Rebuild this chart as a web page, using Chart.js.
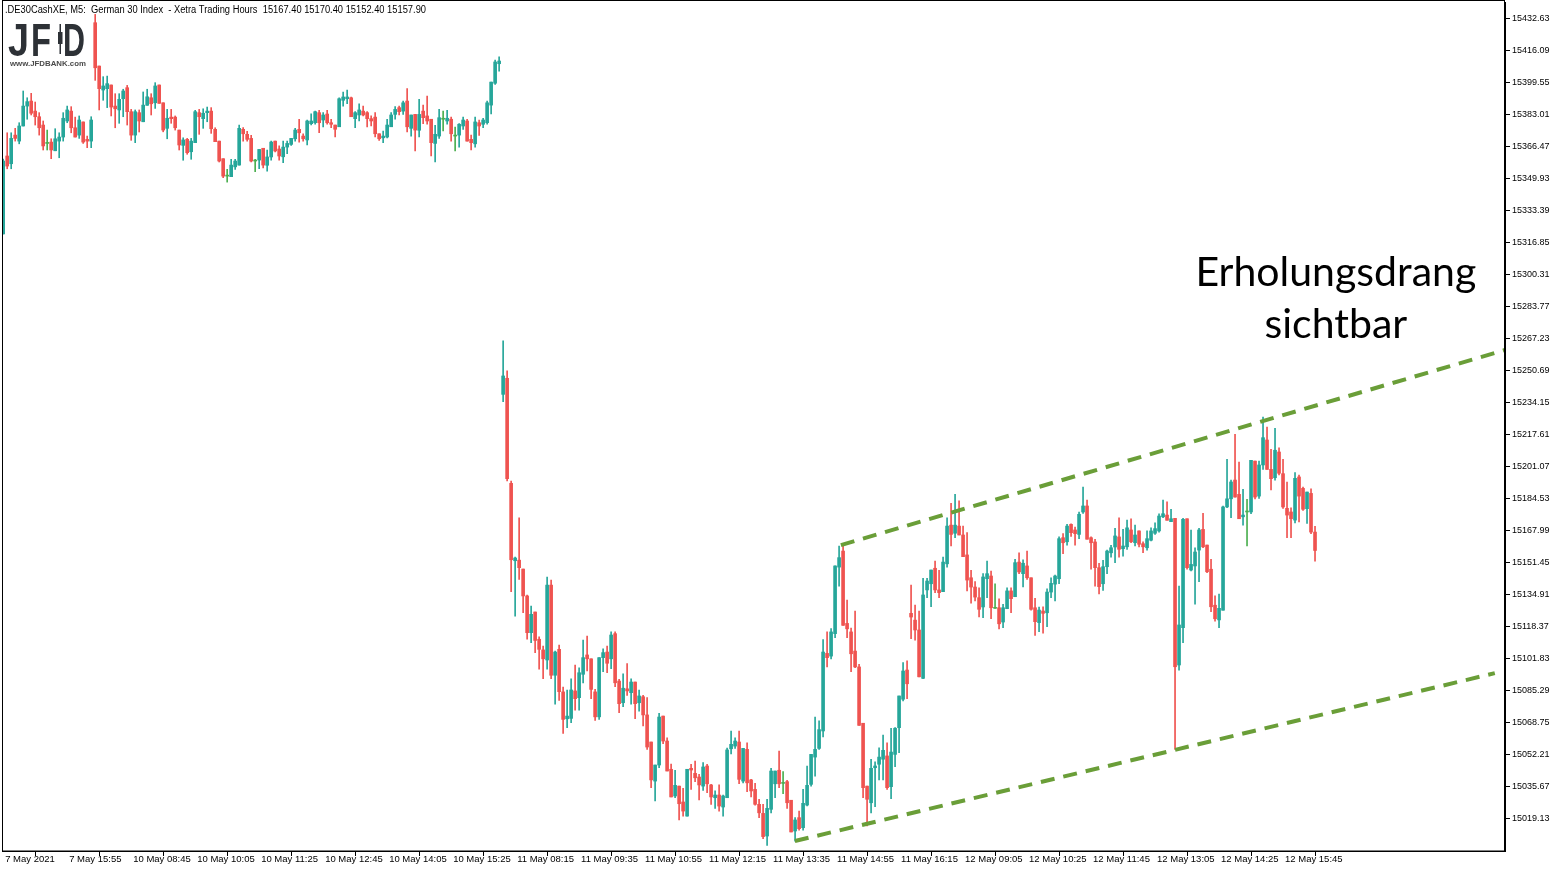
<!DOCTYPE html>
<html><head><meta charset="utf-8">
<script src="https://cdn.jsdelivr.net/npm/chart.js@4.4.1/dist/chart.umd.min.js"></script>
<style>html,body{margin:0;padding:0;background:#fff;}canvas{display:block;}</style>
</head><body>
<canvas id="c" width="1563" height="871"></canvas>
<script>
const chartTitle = '.DE30CashXE, M5:  German 30 Index  - Xetra Trading Hours  15167.40 15170.40 15152.40 15157.90';
const noteLines = ['Erholungsdrang', 'sichtbar'];
const xTickLabels = ['7 May 2021','7 May 15:55','10 May 08:45','10 May 10:05','10 May 11:25','10 May 12:45','10 May 14:05','10 May 15:25','11 May 08:15','11 May 09:35','11 May 10:55','11 May 12:15','11 May 13:35','11 May 14:55','11 May 16:15','12 May 09:05','12 May 10:25','12 May 11:45','12 May 13:05','12 May 14:25','12 May 15:45'];
const yTickValues = [15432.63,15416.09,15399.55,15383.01,15366.47,15349.93,15333.39,15316.85,15300.31,15283.77,15267.23,15250.69,15234.15,15217.61,15201.07,15184.53,15167.99,15151.45,15134.91,15118.37,15101.83,15085.29,15068.75,15052.21,15035.67,15019.13];

const openP = [
15321.5,15361.8,15357.8,15372.6,15369.5,15377.3,15387.6,15390.2,15385.0,15382.1,
15377.8,15368.3,15369.0,15364.5,15369.5,15371.6,15379.9,15385.0,15376.4,15372.6,
15379.4,15370.4,15369.5,15430.7,15408.3,15395.9,15396.6,15398.5,15387.6,15385.6,
15391.4,15397.1,15384.7,15372.6,15384.2,15379.5,15388.0,15391.9,15389.3,15398.5,
15389.3,15376.1,15381.9,15381.9,15375.2,15367.3,15370.4,15364.0,15368.7,15384.2,
15381.1,15384.2,15385.0,15375.6,15369.5,15360.4,15351.4,15351.1,15356.2,15357.1,
15375.6,15373.0,15370.9,15359.2,15359.7,15365.8,15357.0,15361.3,15369.5,15365.4,
15361.4,15366.4,15367.8,15370.7,15375.6,15372.1,15370.1,15378.5,15379.0,15384.2,
15380.4,15383.5,15379.0,15377.8,15376.9,15390.6,15391.4,15391.9,15381.1,15383.0,
15385.0,15384.2,15381.1,15381.9,15373.3,15371.2,15371.6,15376.9,15383.3,15386.8,
15385.0,15390.2,15376.1,15383.3,15375.1,15385.0,15382.5,15380.8,15368.3,15372.1,
15380.8,15379.9,15380.8,15372.1,15372.6,15377.3,15379.9,15370.4,15368.1,15379.0,
15378.2,15379.0,15388.1,15399.4,15409.5,15238.6,15246.9,15192.6,15152.6,15152.9,
15148.3,15134.4,15115.4,15126.1,15112.0,15106.5,15101.3,15140.0,15093.4,15106.8,
15084.8,15070.9,15071.1,15085.3,15081.8,15093.9,15103.9,15101.9,15084.8,15071.9,
15102.5,15105.4,15101.9,15114.9,15090.4,15079.2,15086.4,15084.4,15089.9,15079.2,
15082.3,15072.9,15058.9,15038.7,15047.0,15072.3,15059.4,15044.8,15031.0,15036.1,
15027.9,15020.6,15045.3,15042.7,15040.8,15036.1,15046.5,15036.7,15030.1,15031.5,
15025.3,15030.1,15055.4,15056.8,15058.9,15038.7,15055.1,15039.3,15034.4,15026.7,
15022.0,15010.3,15024.1,15037.3,15044.3,15037.5,15038.4,15028.8,15012.9,15019.8,
15014.6,15026.3,15037.0,15051.1,15055.6,15064.6,15104.7,15103.3,15114.9,15149.3,
15157.6,15120.2,15115.8,15105.9,15097.7,15068.6,15036.1,15027.5,15045.6,15047.4,
15050.0,15051.7,15035.8,15052.5,15066.3,15081.0,15096.1,15125.4,15121.9,15116.8,
15091.8,15137.5,15140.7,15148.7,15137.5,15136.6,15151.0,15171.0,15166.8,15170.5,
15165.9,15155.6,15143.8,15139.0,15133.5,15128.7,15143.3,15144.7,15128.0,15128.3,
15120.9,15127.8,15137.0,15134.0,15151.9,15145.9,15149.9,15143.8,15128.3,15120.6,
15126.6,15125.7,15136.4,15140.5,15143.3,15164.5,15162.4,15171.4,15168.5,15166.2,
15177.8,15180.9,15164.5,15162.3,15149.0,15140.7,15149.5,15156.7,15159.7,15164.9,
15158.8,15159.8,15168.5,15161.9,15168.0,15161.4,15159.3,15163.2,15166.8,15168.0,
15175.3,15176.2,15172.8,15174.5,15098.7,15118.0,15174.3,15147.8,15149.9,15158.1,
15168.8,15160.7,15148.2,15129.6,15122.0,15127.0,15180.4,15184.6,15194.3,15186.9,
15175.3,15177.8,15177.8,15204.1,15186.0,15202.1,15215.0,15199.8,15195.5,15208.8,
15197.6,15179.7,15177.8,15173.6,15195.9,15190.0,15179.5,15187.4,15167.4];

const highP = [
15360.2,15373.8,15373.8,15376.1,15379.0,15395.4,15391.9,15394.2,15389.7,15384.2,
15379.9,15375.2,15370.7,15375.9,15373.8,15384.2,15387.6,15387.3,15381.9,15382.5,
15379.4,15372.1,15382.1,15435.0,15408.3,15402.8,15403.1,15398.5,15394.0,15394.0,
15396.3,15398.3,15385.9,15385.6,15385.6,15394.9,15396.3,15394.0,15399.7,15398.5,
15389.3,15385.9,15385.9,15382.5,15375.2,15371.2,15370.9,15370.9,15385.4,15385.9,
15386.2,15387.1,15386.8,15376.4,15369.5,15360.4,15354.9,15360.1,15360.1,15377.8,
15376.5,15374.5,15372.5,15360.1,15365.2,15365.8,15364.9,15369.5,15369.5,15367.0,
15369.5,15369.5,15370.9,15376.1,15380.8,15373.3,15380.4,15383.6,15385.0,15385.4,
15384.2,15385.4,15380.8,15377.8,15391.9,15394.9,15395.9,15392.3,15384.7,15388.8,
15387.6,15384.7,15382.5,15384.2,15373.3,15374.7,15380.8,15384.2,15387.3,15387.6,
15390.2,15396.6,15383.0,15383.3,15391.1,15388.1,15392.8,15380.8,15377.6,15385.9,
15385.0,15385.4,15381.9,15376.8,15378.5,15381.9,15380.8,15372.6,15381.9,15380.4,
15381.3,15390.2,15400.0,15411.4,15413.1,15266.2,15250.7,15193.8,15154.5,15174.8,
15148.3,15134.9,15129.2,15126.1,15113.2,15108.5,15144.2,15142.6,15105.9,15109.0,
15087.3,15085.8,15091.6,15098.7,15097.3,15111.6,15113.7,15101.9,15086.1,15102.5,
15107.1,15108.5,15115.8,15115.8,15091.3,15094.2,15099.4,15091.6,15089.9,15085.8,
15083.0,15081.8,15058.9,15047.0,15073.7,15072.3,15061.0,15047.5,15044.3,15036.1,
15034.9,15044.8,15047.4,15049.1,15042.2,15048.2,15047.4,15037.0,15033.6,15036.7,
15031.5,15055.8,15064.6,15061.1,15064.6,15055.6,15058.5,15039.6,15037.5,15029.3,
15026.7,15029.3,15045.3,15043.9,15054.2,15043.6,15039.1,15028.8,15019.8,15023.2,
15034.4,15046.5,15052.5,15071.8,15069.9,15111.9,15115.8,15117.5,15149.9,15160.2,
15161.4,15132.3,15117.8,15126.6,15099.1,15068.6,15036.1,15050.0,15048.7,15055.9,
15062.5,15058.5,15066.0,15066.3,15082.7,15099.9,15100.8,15140.0,15129.7,15126.6,
15143.5,15143.5,15147.8,15152.4,15147.6,15154.5,15174.8,15182.3,15186.9,15183.5,
15170.5,15167.1,15147.6,15141.8,15138.6,15145.9,15152.4,15147.3,15140.7,15132.9,
15130.1,15138.6,15138.6,15153.3,15156.7,15153.0,15157.6,15143.8,15133.2,15128.7,
15128.8,15138.1,15143.8,15145.2,15164.9,15166.6,15171.4,15171.7,15170.0,15177.8,
15190.7,15184.0,15164.9,15163.7,15151.3,15152.8,15158.1,15160.5,15169.4,15174.8,
15168.8,15173.6,15174.3,15171.0,15168.0,15162.4,15168.0,15169.6,15172.2,15176.9,
15184.0,15183.1,15179.2,15174.5,15139.5,15174.5,15174.3,15168.5,15159.3,15169.4,
15177.1,15160.7,15153.3,15134.4,15135.3,15180.9,15205.0,15194.3,15217.9,15203.6,
15189.5,15184.3,15204.5,15204.1,15204.1,15226.9,15221.7,15210.2,15221.0,15211.0,
15205.0,15193.3,15180.0,15198.1,15196.9,15190.7,15188.1,15189.8,15170.4];

const lowP = [
15321.5,15355.2,15355.2,15369.5,15368.1,15377.3,15380.8,15383.0,15377.8,15372.6,
15364.9,15364.9,15360.4,15364.5,15360.9,15369.5,15379.0,15373.8,15371.6,15370.9,
15368.3,15366.1,15366.1,15400.9,15385.6,15390.6,15386.8,15382.5,15376.4,15378.7,
15382.1,15377.8,15369.9,15368.7,15374.2,15379.5,15388.0,15383.0,15386.4,15389.0,
15374.3,15370.7,15378.7,15375.2,15364.9,15359.6,15362.7,15360.1,15368.7,15373.0,
15376.1,15379.5,15373.5,15369.2,15358.7,15350.6,15348.3,15351.1,15354.9,15357.1,
15369.5,15369.5,15358.7,15353.7,15355.2,15355.7,15354.0,15359.7,15363.9,15359.6,
15358.3,15363.0,15367.3,15369.5,15369.0,15369.5,15367.5,15377.8,15378.2,15373.8,
15376.8,15378.2,15376.4,15371.6,15376.9,15387.6,15388.8,15382.1,15376.4,15379.9,
15382.5,15376.8,15377.3,15371.6,15369.9,15368.7,15371.2,15376.9,15380.8,15383.0,
15383.3,15374.3,15372.1,15364.4,15371.6,15378.5,15378.2,15361.8,15358.8,15370.9,
15374.7,15378.2,15369.5,15364.4,15366.4,15375.6,15369.5,15364.9,15366.4,15372.5,
15376.4,15378.2,15383.6,15398.8,15405.7,15234.8,15193.8,15136.6,15124.0,15143.0,
15125.7,15112.0,15110.2,15105.1,15096.5,15091.6,15096.5,15091.6,15078.4,15080.4,
15063.4,15066.3,15068.9,15075.3,15075.3,15089.5,15095.6,15081.3,15070.1,15070.6,
15095.2,15094.7,15096.8,15087.5,15074.0,15077.1,15083.0,15078.4,15070.9,15074.9,
15067.2,15055.1,15035.3,15028.4,15045.6,15058.0,15043.9,15030.5,15030.1,15018.6,
15020.6,15020.6,15034.4,15038.4,15028.9,15033.9,15032.7,15026.7,15024.6,15023.2,
15020.6,15030.1,15052.8,15055.6,15037.3,15037.8,15033.2,15030.5,15026.2,15019.8,
15008.9,15005.5,15022.3,15030.1,15035.3,15032.2,15024.6,15012.4,15007.7,15013.3,
15013.3,15025.8,15036.1,15041.3,15055.1,15061.5,15097.7,15101.9,15112.8,15139.5,
15119.2,15112.8,15095.2,15097.3,15067.5,15030.1,15015.5,15022.3,15025.5,15039.3,
15039.3,15034.4,15029.6,15046.1,15053.4,15080.1,15081.3,15112.3,15111.6,15092.6,
15091.6,15133.5,15128.8,15136.1,15133.5,15136.6,15149.3,15160.2,15164.5,15165.9,
15154.7,15137.0,15130.6,15131.8,15123.5,15123.2,15133.5,15122.6,15127.9,15117.4,
15118.0,15127.8,15125.7,15134.0,15145.9,15139.0,15143.0,15127.0,15114.0,15115.9,
15115.1,15118.5,15133.5,15131.8,15140.8,15156.2,15160.7,15165.1,15160.6,15164.0,
15177.1,15163.7,15148.2,15139.5,15135.5,15137.3,15145.9,15154.5,15151.6,15154.5,
15155.0,15158.5,15161.9,15160.2,15159.8,15156.7,15158.1,15162.8,15166.2,15167.4,
15174.8,15173.5,15172.8,15055.1,15096.0,15110.2,15148.2,15147.3,15130.1,15141.8,
15159.3,15146.4,15126.3,15121.4,15118.0,15127.0,15180.0,15174.8,15185.5,15174.3,
15171.0,15160.2,15176.9,15184.6,15184.8,15199.8,15199.8,15189.2,15194.3,15196.9,
15179.7,15164.5,15164.5,15172.2,15172.6,15178.6,15171.9,15166.6,15152.4];

const closeP = [
15359.2,15356.6,15370.9,15370.9,15377.3,15387.6,15389.9,15383.9,15382.1,15376.4,
15367.0,15368.3,15364.9,15370.7,15371.6,15381.3,15385.6,15376.4,15371.6,15380.4,
15369.0,15369.5,15380.4,15407.4,15396.6,15398.0,15399.2,15387.1,15386.2,15391.1,
15395.4,15384.7,15372.6,15384.7,15379.9,15388.1,15392.4,15388.8,15398.0,15389.0,
15375.2,15381.3,15381.1,15376.4,15367.5,15370.1,15363.5,15369.5,15384.7,15382.1,
15383.9,15385.0,15375.9,15369.2,15359.2,15351.4,15351.4,15357.1,15359.2,15376.1,
15373.3,15370.4,15359.2,15359.2,15365.2,15357.1,15361.3,15369.0,15364.4,15361.8,
15366.4,15368.3,15370.9,15375.2,15373.8,15370.7,15379.9,15379.9,15384.7,15379.0,
15383.0,15379.0,15378.2,15375.6,15391.4,15392.3,15392.3,15382.1,15384.2,15385.6,
15383.0,15381.1,15379.9,15373.3,15370.7,15372.1,15377.8,15383.0,15385.9,15384.7,
15389.3,15376.9,15383.0,15375.2,15383.3,15381.6,15379.9,15368.7,15373.0,15381.6,
15380.8,15381.3,15373.3,15372.1,15378.2,15380.4,15369.5,15368.7,15379.4,15377.3,
15380.4,15389.3,15400.0,15410.4,15410.9,15248.1,15195.0,15153.1,15154.0,15149.0,
15134.4,15115.4,15124.9,15111.4,15106.8,15101.9,15140.0,15093.4,15105.4,15084.9,
15070.6,15072.3,15085.8,15081.3,15094.7,15102.5,15101.9,15086.1,15071.9,15102.5,
15105.1,15099.6,15114.2,15089.5,15078.7,15086.7,15085.3,15089.9,15078.7,15082.7,
15072.9,15056.3,15039.3,15047.0,15071.8,15059.4,15043.9,15030.5,15036.5,15027.0,
15023.2,15044.8,15044.4,15040.4,15036.7,15046.0,15037.3,15030.5,15031.5,15025.8,
15031.0,15054.8,15057.7,15059.4,15039.6,15055.6,15037.8,15033.6,15026.7,15022.3,
15010.0,15024.6,15043.9,15043.9,15037.3,15037.5,15027.5,15012.4,15018.6,15014.1,
15027.2,15036.5,15052.5,15055.1,15065.3,15105.4,15102.5,15115.8,15149.9,15154.2,
15119.2,15117.4,15104.5,15097.7,15067.5,15035.3,15029.3,15045.3,15046.5,15051.1,
15054.6,15035.3,15053.7,15066.0,15082.7,15095.6,15089.0,15123.5,15116.8,15092.6,
15134.9,15142.1,15147.8,15137.5,15136.1,15151.9,15170.5,15166.2,15171.0,15165.9,
15154.7,15142.6,15139.0,15133.8,15127.5,15144.2,15145.9,15128.3,15128.0,15120.0,
15128.3,15137.0,15133.0,15151.6,15146.8,15151.3,15143.8,15127.5,15121.1,15127.1,
15125.4,15136.4,15140.9,15144.7,15164.0,15161.9,15170.5,15167.1,15166.6,15176.6,
15180.9,15163.7,15161.9,15149.0,15139.2,15149.5,15157.6,15159.3,15165.4,15158.5,
15160.2,15169.6,15162.4,15165.9,15161.1,15159.8,15164.0,15168.0,15169.2,15175.7,
15176.9,15173.5,15174.3,15097.8,15119.4,15174.0,15149.0,15150.7,15157.1,15168.5,
15159.8,15146.9,15128.8,15122.6,15128.0,15180.4,15184.6,15193.3,15185.5,15174.3,
15176.2,15177.8,15204.5,15185.5,15202.1,15216.2,15199.8,15195.0,15209.7,15197.8,
15180.4,15176.2,15174.3,15195.2,15186.0,15179.2,15188.1,15167.4,15157.9];

const upperTrend = [{x: 209.45, y: 15160.7}, {x: 375.45, y: 15261.5}];
const lowerTrend = [{x: 197.95, y: 15007.7}, {x: 372.95, y: 15094.5}];
const notePos = {x: 333.2, y1: 15294.6, y2: 15267.7};

const UP = '#26a69a', DOWN = '#ef5350', DOJI = '#4caf50', TREND = '#6a9e38';
const candleColor = i => closeP[i] > openP[i] ? UP : (closeP[i] < openP[i] ? DOWN : DOJI);

const wickData = lowP.map((l, i) => ({x: i, y: [l, highP[i]]}));
const bodyData = openP.map((o, i) => ({x: i, y: [o, closeP[i]]}));

const decor = {
  id: 'decor',
  beforeDraw(chart) {
    const ctx = chart.ctx;
    ctx.save(); ctx.fillStyle = '#fff'; ctx.fillRect(0, 0, chart.width, chart.height); ctx.restore();
  },
  afterDraw(chart) {
    const ctx = chart.ctx, a = chart.chartArea;
    const xs = chart.scales.x, ys = chart.scales.y;
    ctx.save();
    ctx.strokeStyle = '#000'; ctx.lineWidth = 1;
    ctx.strokeRect(a.left + 0.5, 0.5, a.right - a.left - 1, a.bottom - 0.5);
    // header text
    ctx.fillStyle = '#000'; ctx.textBaseline = 'alphabetic'; ctx.textAlign = 'left';
    ctx.font = '10px "Liberation Sans"';
    ctx.fillText(chartTitle, 5, 13, 421);
    // logo
    ctx.fillStyle = '#2d3136';
    ctx.font = 'bold 46px "Liberation Sans"';
    ctx.fillText('J', 8, 56, 21);
    ctx.fillText('F', 31, 56, 20);
    ctx.fillText('D', 63, 56, 22);
    ctx.fillRect(59.5, 24, 1.5, 30);
    ctx.fillRect(58, 32, 4.5, 12);
    ctx.fillStyle = '#4a4a4a';
    ctx.font = 'bold 8px "Liberation Sans"';
    ctx.fillText('www.JFDBANK.com', 10, 66, 76);
    // annotation
    ctx.fillStyle = '#000';
    ctx.textAlign = 'center';
    ctx.font = '41px Lato';
    const cx = xs.getPixelForValue(notePos.x);
    ctx.fillText(noteLines[0], cx, ys.getPixelForValue(notePos.y1), 286);
    ctx.fillText(noteLines[1], cx, ys.getPixelForValue(notePos.y2), 143);
    ctx.restore();
  }
};

new Chart(document.getElementById('c'), {
  type: 'bar',
  data: {
    datasets: [
      {label: 'wick', data: wickData, order: 3, grouped: false, barThickness: 1,
       backgroundColor: ctx => candleColor(ctx.dataIndex), borderWidth: 0},
      {label: 'body', data: bodyData, order: 2, grouped: false, barThickness: 3, minBarLength: 1,
       backgroundColor: ctx => candleColor(ctx.dataIndex), borderWidth: 0},
      {type: 'line', label: 'upper', data: upperTrend, order: 1, borderColor: TREND, borderWidth: 4,
       borderDash: [14, 9], pointRadius: 0, fill: false, tension: 0},
      {type: 'line', label: 'lower', data: lowerTrend, order: 1, borderColor: TREND, borderWidth: 4,
       borderDash: [14, 9], pointRadius: 0, fill: false, tension: 0}
    ]
  },
  options: {
    responsive: false, animation: false,
    layout: {padding: {left: 2, top: 2, right: 0, bottom: 0}},
    plugins: {legend: {display: false}, tooltip: {enabled: false}},
    scales: {
      x: {
        type: 'linear', position: 'bottom', min: -0.3, max: 375.5, offset: false,
        grid: {display: true, drawOnChartArea: false, drawTicks: true, tickLength: 5, color: '#000'},
        border: {display: true, color: '#000'},
        ticks: {autoSkip: false, maxRotation: 0, minRotation: 0, align: 'start', padding: -2, labelOffset: 2, color: '#000',
                font: {family: 'Liberation Sans', size: 9.5},
                callback: (v, idx) => xTickLabels[idx]},
        afterBuildTicks: s => { s.ticks = xTickLabels.map((_, k) => ({value: k * 16})); },
        afterFit: s => { s.height = 20; s.paddingLeft = 0; s.paddingRight = 0; }
      },
      y: {
        type: 'linear', position: 'right', min: 15002.56, max: 15441.4,
        grid: {display: true, drawOnChartArea: false, drawTicks: true, tickLength: 5, color: '#000'},
        border: {display: true, color: '#000'},
        ticks: {padding: 2, color: '#000', font: {family: 'Liberation Sans', size: 9},
                callback: v => Number(v).toFixed(2)},
        afterBuildTicks: s => { s.ticks = yTickValues.map(v => ({value: v})); },
        afterFit: s => { s.width = 58; s.paddingTop = 0; s.paddingBottom = 0; }
      }
    }
  },
  plugins: [decor]
});
</script>
</body></html>
